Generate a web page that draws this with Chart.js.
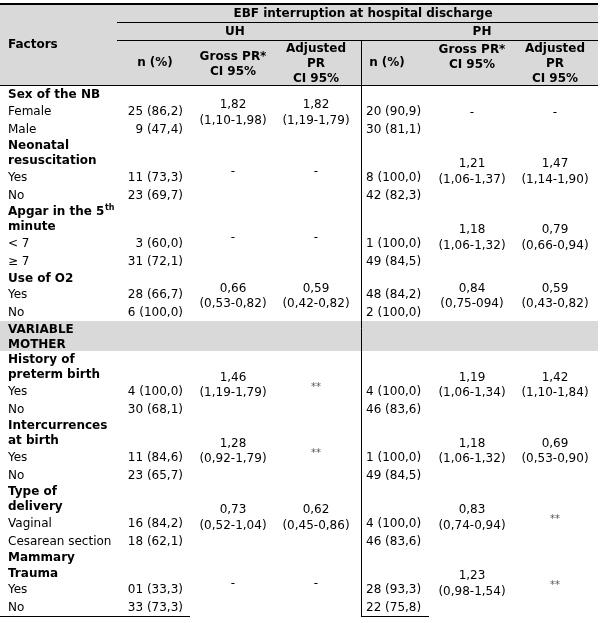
<!DOCTYPE html>
<html>
<head>
<meta charset="utf-8">
<script src="https://cdn.jsdelivr.net/npm/chart.js@4.4.1/dist/chart.umd.min.js"></script>
<style>
  html, body { margin: 0; padding: 0; background: #fff; }
  canvas { display: block; }
</style>
</head>
<body>
<canvas id="table" width="604" height="623"></canvas>
<script>
const headerTitle = "EBF interruption at hospital discharge";
const hospitals = ["UH", "PH"];

const factorTitles = [
  ["Sex of the NB"],
  ["Neonatal", "resuscitation"],
  ["Apgar in the 5^th", "minute"],
  ["Use of O2"],
  ["History of", "preterm birth"],
  ["Intercurrences", "at birth"],
  ["Type of", "delivery"],
  ["Mammary", "Trauma"]
];
const levelLabels = [
  ["Female", "Male"], ["Yes", "No"], ["< 7", "≥ 7"], ["Yes", "No"],
  ["Yes", "No"], ["Yes", "No"], ["Vaginal", "Cesarean section"], ["Yes", "No"]
];
const motherSection = ["VARIABLE", "MOTHER"];
const motherStartsAt = 4;

const uhN = [
  ["25 (86,2)", "9 (47,4)"], ["11 (73,3)", "23 (69,7)"], ["3 (60,0)", "31 (72,1)"],
  ["28 (66,7)", "6 (100,0)"], ["4 (100,0)", "30 (68,1)"], ["11 (84,6)", "23 (65,7)"],
  ["16 (84,2)", "18 (62,1)"], ["01 (33,3)", "33 (73,3)"]
];
const uhGross = [
  ["1,82", "(1,10-1,98)"], ["-"], ["-"], ["0,66", "(0,53-0,82)"],
  ["1,46", "(1,19-1,79)"], ["1,28", "(0,92-1,79)"], ["0,73", "(0,52-1,04)"], ["-"]
];
const uhAdjusted = [
  ["1,82", "(1,19-1,79)"], ["-"], ["-"], ["0,59", "(0,42-0,82)"],
  ["**"], ["**"], ["0,62", "(0,45-0,86)"], ["-"]
];
const phN = [
  ["20 (90,9)", "30 (81,1)"], ["8 (100,0)", "42 (82,3)"], ["1 (100,0)", "49 (84,5)"],
  ["48 (84,2)", "2 (100,0)"], ["4 (100,0)", "46 (83,6)"], ["1 (100,0)", "49 (84,5)"],
  ["4 (100,0)", "46 (83,6)"], ["28 (93,3)", "22 (75,8)"]
];
const phGross = [
  ["-"], ["1,21", "(1,06-1,37)"], ["1,18", "(1,06-1,32)"], ["0,84", "(0,75-094)"],
  ["1,19", "(1,06-1,34)"], ["1,18", "(1,06-1,32)"], ["0,83", "(0,74-0,94)"], ["1,23", "(0,98-1,54)"]
];
const phAdjusted = [
  ["-"], ["1,47", "(1,14-1,90)"], ["0,79", "(0,66-0,94)"], ["0,59", "(0,43-0,82)"],
  ["1,42", "(1,10-1,84)"], ["0,69", "(0,53-0,90)"], ["**"], ["**"]
];

/* ---------------- LAYOUT ---------------- */
const FONT = '"DejaVu Sans", Verdana, sans-serif';
const GRAY = "#d9d9d9";
const TITLE_H = 15.1;
const ROW_H = 18;
const BODY_TOP = 86.4;
const TEXT_DY = 1;   // kleine Korrektur fuer die Grundlinie
const RIGHT = 598;
const col = { label: 8, uhN: 183, uhGross: 233, uhAdj: 316, split: 361.5, phN: 366, phGross: 472, phAdj: 555 };

// Zeilenpositionen aus den Zeilenhoehen berechnen
function buildRows() {
  const out = { groups: [], mother: null, bottom: 0 };
  let y = BODY_TOP;
  factorTitles.forEach((title, g) => {
    if (g === motherStartsAt) {
      const top = y;
      const lines = motherSection.map((t, i) => ({ text: t, y: top + TITLE_H * (i + 0.5) }));
      y += TITLE_H * motherSection.length;
      out.mother = { top, bottom: y, lines };
    }
    const top = y;
    const titleLines = title.map((t, i) => ({ text: t, y: top + TITLE_H * (i + 0.5) }));
    y += TITLE_H * title.length;
    const rows = levelLabels[g].map((t, i) => ({ text: t, y: y + ROW_H * (i + 0.5) }));
    y += ROW_H * levelLabels[g].length;
    out.groups.push({ top, bottom: y, titleLines, rows });
  });
  out.bottom = Math.round(y) + 0.5;
  return out;
}
const layout = buildRows();

const tablePlugin = {
  id: "tablePlugin",
  beforeDraw(chart) {
    const { ctx, scales: { x, y } } = chart;
    ctx.save();
    ctx.fillStyle = "#fff";
    ctx.fillRect(0, 0, chart.width, chart.height);
    ctx.fillStyle = GRAY;
    // Kopfbereich
    ctx.fillRect(x.getPixelForValue(0), y.getPixelForValue(4), x.getPixelForValue(RIGHT), y.getPixelForValue(86) - y.getPixelForValue(4));
    // VARIABLE MOTHER
    const m = layout.mother;
    const t = Math.round(m.top), b = Math.round(m.bottom);
    ctx.fillRect(x.getPixelForValue(0), y.getPixelForValue(t), x.getPixelForValue(RIGHT), y.getPixelForValue(b) - y.getPixelForValue(t));
    ctx.restore();
  },
  afterDraw(chart) {
    const { ctx, scales: { x, y } } = chart;
    const px = v => x.getPixelForValue(v);
    const py = v => y.getPixelForValue(v);

    function text(str, cx, cy, align, bold, size) {
      size = size || 12;
      cy += TEXT_DY;
      ctx.font = (bold ? "bold " : "") + size + "px " + FONT;
      ctx.textAlign = align;
      ctx.textBaseline = "middle";
      if (str.indexOf("^") >= 0) {
        const [base, sup] = str.split("^");
        ctx.textAlign = "left";
        ctx.fillText(base, px(cx), py(cy));
        const w = ctx.measureText(base).width;
        ctx.font = (bold ? "bold " : "") + "8px " + FONT;
        ctx.fillText(sup, px(cx) + w + 0.5, py(cy) - 4);
        return;
      }
      ctx.fillText(str, px(cx), py(cy));
    }
    function line(x1, y1, x2, y2, w) {
      ctx.beginPath();
      ctx.lineWidth = w || 1;
      ctx.moveTo(px(x1), py(y1));
      ctx.lineTo(px(x2), py(y2));
      ctx.stroke();
    }

    ctx.save();
    ctx.fillStyle = "#000";
    ctx.strokeStyle = "#000";

    // Kopf
    text(headerTitle, 363, 13, "center", true);
    text(hospitals[0], 235, 31, "center", true);
    text(hospitals[1], 482, 31, "center", true);
    text("Factors", col.label, 44, "left", true);
    text("n (%)", 155, 62, "center", true);
    text("Gross PR*", col.uhGross, 56, "center", true);
    text("CI 95%", col.uhGross, 70.5, "center", true);
    text("Adjusted", col.uhAdj, 48, "center", true);
    text("PR", col.uhAdj, 63, "center", true);
    text("CI 95%", col.uhAdj, 78, "center", true);
    text("n (%)", 387, 62, "center", true);
    text("Gross PR*", col.phGross, 49, "center", true);
    text("CI 95%", col.phGross, 63.5, "center", true);
    text("Adjusted", col.phAdj, 48, "center", true);
    text("PR", col.phAdj, 63, "center", true);
    text("CI 95%", col.phAdj, 78, "center", true);

    // VARIABLE MOTHER
    layout.mother.lines.forEach(l => text(l.text, col.label, l.y, "left", true));

    // Gruppen
    function prCell(cell, cx, mid) {
      if (cell.length === 1) {
        const star = cell[0] === "**";
        ctx.fillStyle = star ? "#555" : "#000";
        text(cell[0], cx, mid + (star ? 2 : 0), "center", false, star ? 10 : 12);
        ctx.fillStyle = "#000";
      } else {
        text(cell[0], cx, mid - 7.8, "center", false);
        text(cell[1], cx, mid + 7.8, "center", false);
      }
    }
    layout.groups.forEach((g, i) => {
      g.titleLines.forEach(l => text(l.text, col.label, l.y, "left", true));
      g.rows.forEach((r, k) => {
        text(r.text, col.label, r.y, "left", false);
        text(uhN[i][k], col.uhN, r.y, "right", false);
        text(phN[i][k], col.phN, r.y, "left", false);
      });
      const mid = (g.top + g.bottom) / 2;
      prCell(uhGross[i], col.uhGross, mid);
      prCell(uhAdjusted[i], col.uhAdj, mid);
      prCell(phGross[i], col.phGross, mid);
      prCell(phAdjusted[i], col.phAdj, mid);
    });

    // Linien
    line(0, 4, RIGHT, 4, 2);
    line(117, 22.5, RIGHT, 22.5, 1);
    line(117, 40.5, RIGHT, 40.5, 1);
    line(0, 85.5, RIGHT, 85.5, 1);
    line(col.split, 40, col.split, layout.bottom + 0.5, 1);
    line(0, layout.bottom, 190, layout.bottom, 1);
    line(col.split - 0.5, layout.bottom, 429, layout.bottom, 1);

    ctx.restore();
  }
};

new Chart(document.getElementById("table"), {
  type: "scatter",
  data: { datasets: [] },
  options: {
    responsive: false,
    devicePixelRatio: 1,
    animation: false,
    layout: { padding: 0 },
    plugins: { legend: { display: false }, tooltip: { enabled: false } },
    scales: {
      x: { type: "linear", min: 0, max: 604, display: false },
      y: { type: "linear", min: 0, max: 623, reverse: true, display: false }
    }
  },
  plugins: [tablePlugin]
});
</script>
</body>
</html>
